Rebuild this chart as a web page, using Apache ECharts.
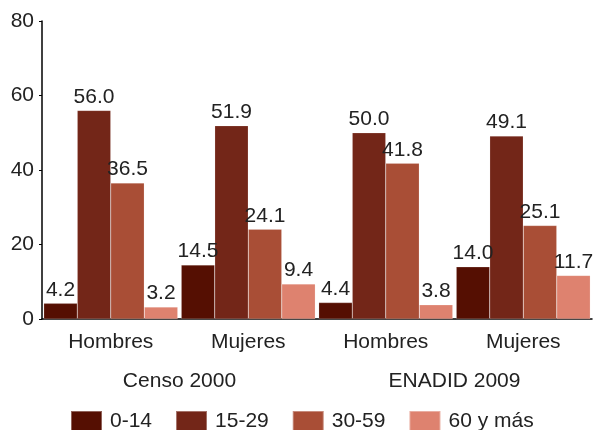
<!DOCTYPE html>
<html><head><meta charset="utf-8">
<script src="https://cdn.jsdelivr.net/npm/echarts@6/dist/echarts.min.js"></script>
<style>html,body{margin:0;padding:0;background:#fff}#c{width:593px;height:430px}</style>
</head><body><div id="c"></div>
<script>
var categories = ['Hombres', 'Mujeres', 'Hombres', 'Mujeres'];
var groups = ['Censo 2000', 'ENADID 2009'];
var seriesNames = ['0-14', '15-29', '30-59', '60 y más'];
var s0_14 = [4.2, 14.5, 4.4, 14.0];
var s15_29 = [56.0, 51.9, 50.0, 49.1];
var s30_59 = [36.5, 24.1, 41.8, 25.1];
var s60 = [3.2, 9.4, 3.8, 11.7];
var colors = ['#550f02', '#732618', '#a94e36', '#de826f'];
var values = [s0_14, s15_29, s30_59, s60];
var FONT = 'Liberation Sans, Arial, sans-serif';
var FS = 21;

var chart = echarts.init(document.getElementById('c'), null, {renderer: 'canvas'});
var series = values.map(function (v, i) {
  return {
    name: seriesNames[i], type: 'bar', data: v, xAxisIndex: 0,
    barGap: '0%', barCategoryGap: '2.5%',
    itemStyle: {color: colors[i], borderColor: 'rgba(255,255,255,0.35)', borderWidth: 0.5},
    label: {show: true, position: 'top', distance: 3, color: '#222', fontSize: FS, fontFamily: FONT,
      formatter: function (p) { return p.value.toFixed(1); }}
  };
});
chart.setOption({
  animation: false,
  color: colors,
  grid: {left: 42, right: 1, top: 21, bottom: 111, containLabel: false},
  xAxis: [{
    type: 'category', data: categories, position: 'bottom',
    axisLine: {lineStyle: {color: '#000', width: 1.5}}, axisTick: {show: false},
    axisLabel: {color: '#222', fontSize: FS, fontFamily: FONT, margin: 13}
  }, {
    type: 'category', data: groups, position: 'bottom',
    axisLine: {show: false}, axisTick: {show: false},
    axisLabel: {color: '#222', fontSize: FS, fontFamily: FONT, margin: 52}
  }],
  yAxis: {
    type: 'value', min: 0, max: 80, interval: 20,
    axisLine: {show: true, lineStyle: {color: '#000', width: 1.5}},
    axisTick: {show: true, inside: false, length: 3, lineStyle: {color: '#000'}},
    splitLine: {show: false},
    axisLabel: {color: '#222', fontSize: FS, fontFamily: FONT, margin: 8}
  },
  legend: {
    data: seriesNames, top: 410, left: 70, padding: 0, itemWidth: 31, itemHeight: 20, itemGap: 23,
    icon: 'rect', textStyle: {color: '#222', fontSize: FS, fontFamily: FONT, padding: [0, 0, 0, 3]}
  },
  series: series
});
</script></body></html>
